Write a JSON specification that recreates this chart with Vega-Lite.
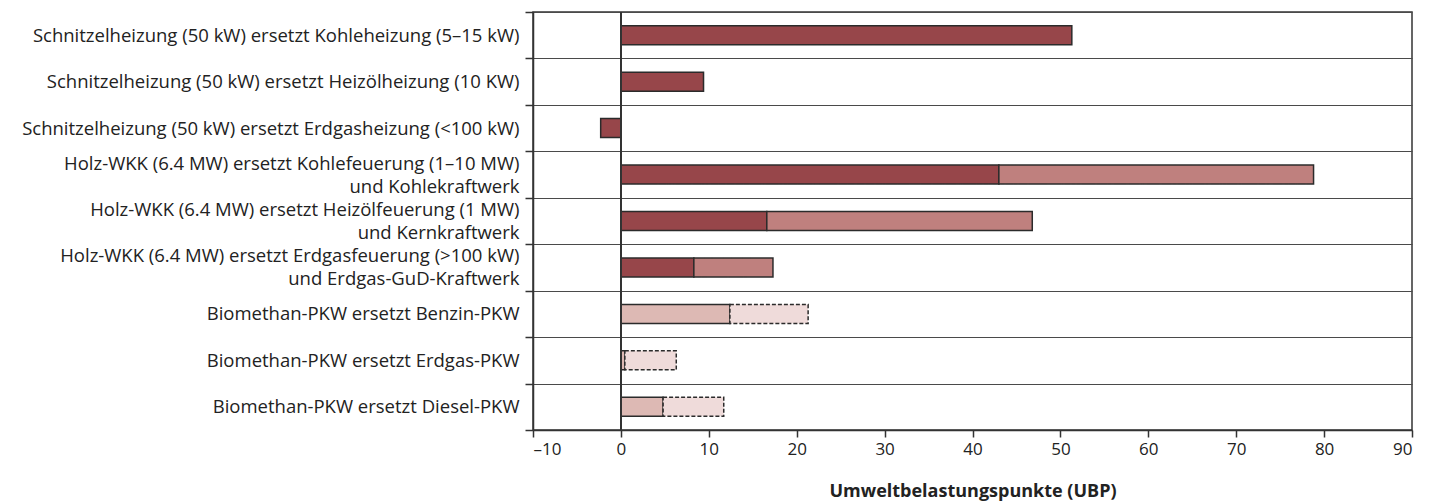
{
  "$schema": "https://vega.github.io/schema/vega-lite/v6.json",
  "width": 879,
  "height": 418,
  "autosize": "none",
  "padding": {"left": 533, "top": 12, "right": 28, "bottom": 74},
  "background": "white",
  "config": {
    "view": {"stroke": "#333333", "strokeWidth": 1.5},
    "font": "Open Sans"
  },
  "data": {
    "values": [
      {"cat": "Schnitzelheizung (50 kW) ersetzt Kohleheizung (5–15 kW)", "seg": "A", "start": 0, "end": 51.3},
      {"cat": "Schnitzelheizung (50 kW) ersetzt Heizölheizung (10 KW)", "seg": "A", "start": 0, "end": 9.4},
      {"cat": "Schnitzelheizung (50 kW) ersetzt Erdgasheizung (<100 kW)", "seg": "A", "start": -2.3, "end": 0},
      {"cat": "Holz-WKK (6.4 MW) ersetzt Kohlefeuerung (1–10 MW)|und Kohlekraftwerk", "seg": "A", "start": 0, "end": 43.0},
      {"cat": "Holz-WKK (6.4 MW) ersetzt Kohlefeuerung (1–10 MW)|und Kohlekraftwerk", "seg": "B", "start": 43.0, "end": 78.8},
      {"cat": "Holz-WKK (6.4 MW) ersetzt Heizölfeuerung (1 MW)|und Kernkraftwerk", "seg": "A", "start": 0, "end": 16.6},
      {"cat": "Holz-WKK (6.4 MW) ersetzt Heizölfeuerung (1 MW)|und Kernkraftwerk", "seg": "B", "start": 16.6, "end": 46.8},
      {"cat": "Holz-WKK (6.4 MW) ersetzt Erdgasfeuerung (>100 kW)|und Erdgas-GuD-Kraftwerk", "seg": "A", "start": 0, "end": 8.3},
      {"cat": "Holz-WKK (6.4 MW) ersetzt Erdgasfeuerung (>100 kW)|und Erdgas-GuD-Kraftwerk", "seg": "B", "start": 8.3, "end": 17.3},
      {"cat": "Biomethan-PKW ersetzt Benzin-PKW", "seg": "C", "start": 0, "end": 12.4},
      {"cat": "Biomethan-PKW ersetzt Benzin-PKW", "seg": "D", "start": 12.4, "end": 21.3},
      {"cat": "Biomethan-PKW ersetzt Erdgas-PKW", "seg": "C", "start": 0, "end": 0.45},
      {"cat": "Biomethan-PKW ersetzt Erdgas-PKW", "seg": "D", "start": 0.45, "end": 6.3},
      {"cat": "Biomethan-PKW ersetzt Diesel-PKW", "seg": "C", "start": 0, "end": 4.8},
      {"cat": "Biomethan-PKW ersetzt Diesel-PKW", "seg": "D", "start": 4.8, "end": 11.7}
    ]
  },
  "layer": [
    {
      "mark": {"type": "bar", "size": 19, "stroke": "#2b2b2b", "strokeWidth": 1.5},
      "encoding": {
        "y": {
          "field": "cat",
          "type": "nominal",
          "sort": null,
          "scale": {"paddingInner": 0, "paddingOuter": 0},
          "axis": {
            "title": null,
            "tickBand": "extent",
            "grid": true,
            "gridColor": "#4a4a4a",
            "gridWidth": 1,
            "domainColor": "#333333",
            "domainWidth": 1.5,
            "tickColor": "#333333",
            "tickWidth": 1.5,
            "tickSize": 8,
            "labelPadding": 6,
            "labelFont": "Open Sans",
            "labelFontSize": 18.5,
            "labelColor": "#222222",
            "labelLimit": 600,
            "labelLineHeight": 23,
            "labelBaseline": "middle",
            "labelOffset": {"condition": {"test": "isValid(datum.value) && indexof(datum.value, '|') >= 0", "value": -11.5}, "value": 0},
            "labelExpr": "isValid(datum.value) ? split(datum.value, '|') : ''"
          }
        },
        "x": {
          "field": "start",
          "type": "quantitative",
          "scale": {"domain": [-10, 90], "nice": false, "zero": false},
          "axis": {
            "title": "Umweltbelastungspunkte (UBP)",
            "titleFont": "Open Sans",
            "titleFontSize": 18,
            "titleFontWeight": "bold",
            "titleColor": "#222222",
            "titlePadding": 25,
            "values": [-10, 0, 10, 20, 30, 40, 50, 60, 70, 80, 90],
            "labelExpr": "replace(format(datum.value, 'd'), '−', '–')",
            "grid": false,
            "domainColor": "#333333",
            "domainWidth": 1.5,
            "tickColor": "#333333",
            "tickWidth": 1.5,
            "tickSize": 7,
            "labelPadding": 4,
            "labelFont": "Open Sans",
            "labelFontSize": 17,
            "labelColor": "#222222"
          }
        },
        "x2": {"field": "end"},
        "fill": {
          "field": "seg",
          "type": "nominal",
          "scale": {"domain": ["A", "B", "C", "D"], "range": ["#97464a", "#bf807e", "#ddb9b4", "#efdbda"]},
          "legend": null
        },
        "strokeDash": {
          "field": "seg",
          "type": "nominal",
          "scale": {"domain": ["A", "B", "C", "D"], "range": [[1, 0], [1, 0], [1, 0], [4, 2]]},
          "legend": null
        }
      }
    },
    {
      "mark": {"type": "rule", "color": "#333333", "strokeWidth": 1.5},
      "encoding": {"x": {"datum": 0}}
    }
  ]
}
